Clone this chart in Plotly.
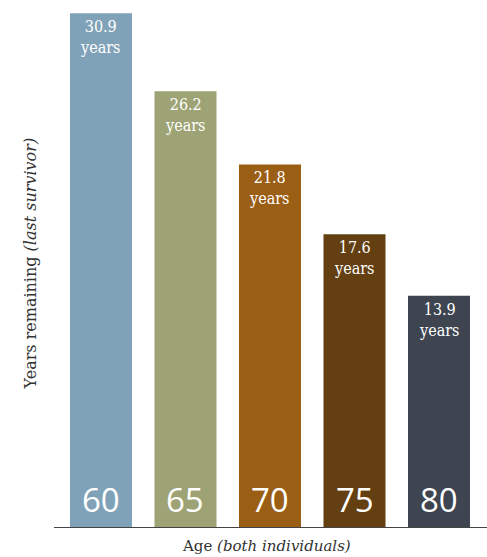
import plotly.graph_objects as go

ages = ["60", "65", "70", "75", "80"]
years = [30.9, 26.2, 21.8, 17.6, 13.9]
colors = ["#7fa2b8", "#9da374", "#9a5e15", "#633f12", "#3e4550"]

serif = "DejaVu Serif Condensed, DejaVu Serif"

fig = go.Figure()
fig.add_trace(go.Bar(
    x=ages, y=years, marker=dict(color=colors, line=dict(width=0)),
    width=0.734, hoverinfo="skip",
))

for i, (a, v) in enumerate(zip(ages, years)):
    fig.add_annotation(x=i, y=v, yanchor="middle", yshift=-24, showarrow=False,
                       text=f"{v}<br>years", align="center", borderpad=0,
                       font=dict(family=serif, size=16, color="white"))
    fig.add_annotation(x=i, y=0, yanchor="bottom", yshift=3, showarrow=False,
                       text=a,
                       font=dict(family="Open Sans", size=33, color="white"))

fig.add_annotation(xref="paper", yref="paper", x=0.49, y=0, yanchor="top", yshift=-8,
                   showarrow=False,
                   text="Age <i>(both individuals)</i>",
                   font=dict(family="DejaVu Serif", size=15, color="#333333"))
fig.add_annotation(xref="paper", yref="paper", x=0, xshift=-24, xanchor="center",
                   y=0.5, yanchor="middle", textangle=-90,
                   showarrow=False,
                   text="Years remaining <i>(last survivor)</i>",
                   font=dict(family="DejaVu Serif", size=16, color="#333333"))

fig.update_layout(
    width=487, height=557,
    margin=dict(l=54, r=0, t=0, b=30),
    plot_bgcolor="white", paper_bgcolor="white",
    showlegend=False,
    xaxis=dict(type="category", range=[-0.556, 4.568], showticklabels=False, ticks="",
               showgrid=False, showline=True, linecolor="#444444", linewidth=1,
               zeroline=False, fixedrange=True),
    yaxis=dict(range=[0, 31.69], visible=False, showgrid=False, zeroline=False,
               fixedrange=True),
)

fig.write_html("out.html")
